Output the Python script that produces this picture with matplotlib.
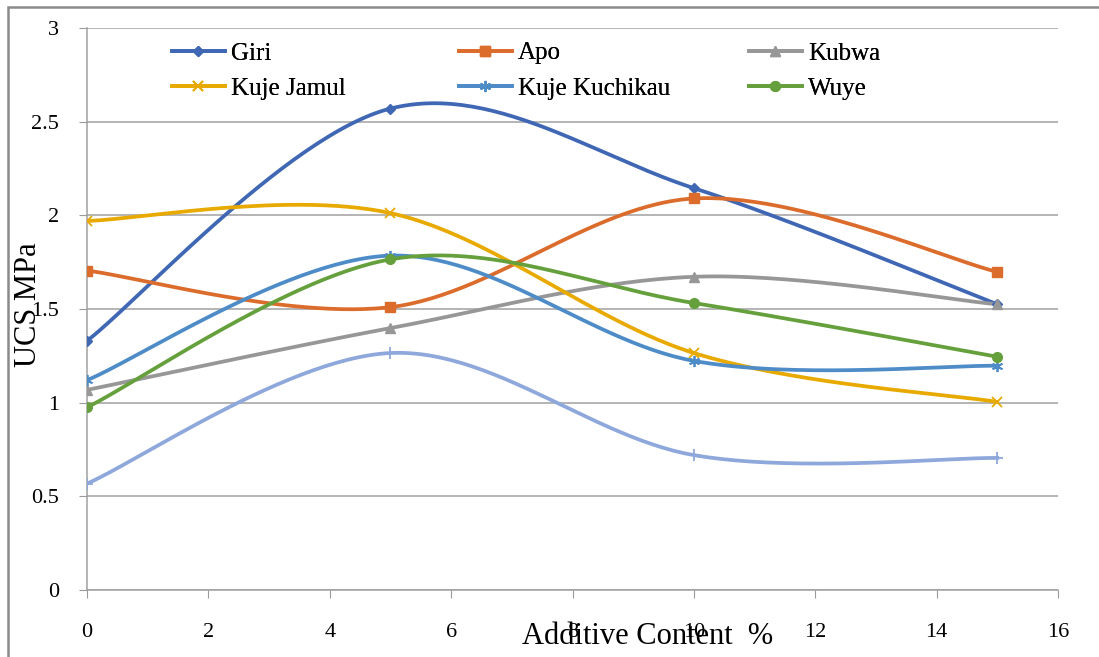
import numpy as np
import matplotlib
matplotlib.use("Agg")
import matplotlib.pyplot as plt
from matplotlib.patches import Rectangle

plt.rcParams['font.family'] = ['Liberation Serif', 'DejaVu Serif']

# additive content (%) and UCS (MPa) per site
additive = [0, 5, 10, 15]
giri = [1.33, 2.57, 2.145, 1.525]
apo = [1.705, 1.51, 2.09, 1.698]
kubwa = [1.068, 1.398, 1.672, 1.525]
kuje_jamul = [1.97, 2.012, 1.265, 1.004]
kuje_kuchikau = [1.12, 1.785, 1.223, 1.197]
wuye = [0.975, 1.765, 1.532, 1.245]
unnamed = [0.568, 1.265, 0.72, 0.705]

names = ["Giri", "Apo", "Kubwa", "Kuje Jamul", "Kuje Kuchikau", "Wuye"]
xticks = [0, 2, 4, 6, 8, 10, 12, 14, 16]
yticks = [0, 0.5, 1, 1.5, 2, 2.5, 3]


def smooth(xs, ys, n=60):
    # spreadsheet-style smoothed line: cubic bezier through the points
    pts = np.column_stack([xs, ys]).astype(float)
    out = []
    for i in range(len(pts) - 1):
        p0 = pts[max(i - 1, 0)]
        p1 = pts[i]
        p2 = pts[i + 1]
        p3 = pts[min(i + 2, len(pts) - 1)]
        c1 = p1 + (p2 - p0) / 6
        c2 = p2 - (p3 - p1) / 6
        t = np.linspace(0, 1, n)[:, None]
        seg = (1 - t)**3 * p1 + 3 * (1 - t)**2 * t * c1 + 3 * (1 - t) * t**2 * c2 + t**3 * p2
        out.append(seg if i == 0 else seg[1:])
    out = np.vstack(out)
    return out[:, 0], out[:, 1]


W, H = 1099, 657
fig = plt.figure(figsize=(W / 100, H / 100), dpi=100)
ax = fig.add_axes([87 / W, 1 - 590 / H, (1058 - 87) / W, (590 - 28) / H])

series = [
    (giri, '#3F67B4', 'D', 5, 0),
    (apo, '#DC6C2C', 's', 7, 0),
    (kubwa, '#979797', '^', 7, 0),
    (kuje_jamul, '#E8AA00', 'x', 7, 1.3),
    (kuje_kuchikau, '#4E8CC8', (6, 2, 0), 8, 1.3),
    (wuye, '#65A03D', 'o', 7, 0),
]

handles = []
for (vals, col, mk, ms, mew), name in zip(series, names):
    sx, sy = smooth(additive, vals)
    ax.plot(sx, sy, color=col, lw=2.7, solid_capstyle='round', zorder=3)
    ax.plot(additive, vals, ls='none', marker=mk, ms=ms, color=col,
            mec=col, mew=mew if mew else 1, zorder=4)
    h, = ax.plot([], [], color=col, lw=2.7, marker=mk, ms=ms, mec=col,
                 mew=mew if mew else 1)
    handles.append(h)

sx, sy = smooth(additive, unnamed)
ax.plot(sx, sy, color='#8FA8DC', lw=2.7, zorder=3)
ax.plot(additive, unnamed, ls='none', marker='+', ms=8, mew=1.3,
        color='#8FA8DC', zorder=4)

ax.set_xlim(0, 16)
ax.set_ylim(0, 3)
ax.set_xticks(xticks)
ax.set_yticks(yticks)
ax.set_yticklabels(['%g' % v for v in yticks])
ax.tick_params(axis='both', direction='out', length=6, color='#9A9A9A',
               labelsize=16)
ax.tick_params(axis='x', pad=18)
ax.tick_params(axis='y', pad=14)
ax.grid(axis='y', color='#A0A0A0', lw=1.1)
ax.set_axisbelow(True)
for s in ['top', 'right']:
    ax.spines[s].set_visible(False)
for s in ['left', 'bottom']:
    ax.spines[s].set_color('#A0A0A0')
    ax.spines[s].set_linewidth(1.1)

fig.text(648 / W, 1 - 637 / H, 'Additive Content  %', fontsize=22,
         ha='center', va='center')
fig.text(29 / W, 1 - 305 / H, 'UCS MPa', fontsize=22, rotation=90,
         ha='center', va='center')

# legend: three columns of two rows
col_x = [172, 459, 749]
for k, x0 in enumerate(col_x):
    leg = fig.legend([handles[k], handles[k + 3]], [names[k], names[k + 3]],
                     loc='upper left', bbox_to_anchor=(x0 / W, 1 - 42 / H),
                     frameon=False, fontsize=18, handlelength=2.1,
                     handletextpad=0.25, borderpad=0, borderaxespad=0,
                     labelspacing=0.5, numpoints=1)
    fig.add_artist(leg)

fig.add_artist(Rectangle((8 / W, -0.05), 1.1, 1.05 - 7 / H,
                         transform=fig.transFigure, fill=False,
                         ec='#8A8A8A', lw=1.8))

fig.savefig('out.png', dpi=100)
